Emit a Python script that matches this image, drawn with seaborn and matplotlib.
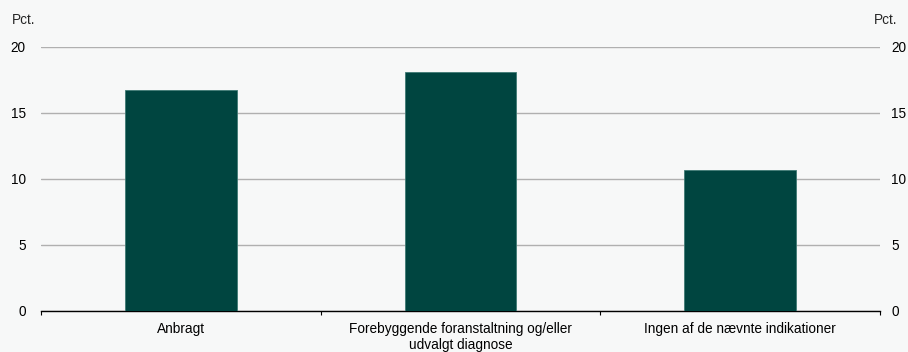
import matplotlib
matplotlib.use("Agg")
import matplotlib.pyplot as plt
from matplotlib.ticker import FixedLocator
import seaborn as sns
import pandas as pd

categories = ["Anbragt", "Forebyggende foranstaltning og/eller\nudvalgt diagnose", "Ingen af de nævnte indikationer"]
values = [16.75, 18.1, 10.7]
yticks = [0, 5, 10, 15, 20]

sns.set_theme(style="white")
plt.rcParams['font.family'] = ['Liberation Sans', 'DejaVu Sans']

bg = "#f7f8f8"
fs = 9.8
fig = plt.figure(figsize=(9.08, 3.52), dpi=100, facecolor=bg)
ax = fig.add_axes([41/908, 41/352, (880-41)/908, (311-47)/352])
ax.set_facecolor(bg)

df = pd.DataFrame({"cat": categories, "val": values})
sns.barplot(data=df, x="cat", y="val", color="#004540", saturation=1, width=0.4,
            edgecolor="#3f7a74", linewidth=0.6, ax=ax, zorder=3)

ax.set_ylim(0, 20)
ax.set_xlim(-0.5, 2.5)
ax.set_yticks(yticks)
ax.yaxis.grid(True, color="#b0b0b0", linewidth=1)
ax.set_axisbelow(True)
for s in ["top", "left", "right"]:
    ax.spines[s].set_visible(False)
ax.spines["bottom"].set_color("black")
ax.spines["bottom"].set_linewidth(1)
ax.set_xlabel("")
ax.set_ylabel("")

ax.tick_params(axis="y", length=0, labelsize=fs, colors="black", pad=11,
               labelleft=True, labelright=False)
ax.tick_params(axis="x", which="major", length=0, labelsize=fs, colors="black", pad=8)

# right-side axis labels
axr = ax.twinx()
axr.set_ylim(ax.get_ylim())
axr.set_yticks(yticks)
axr.tick_params(axis="y", length=0, labelsize=fs, colors="black", pad=8)
for s in ["top", "left", "right", "bottom"]:
    axr.spines[s].set_visible(False)
axr.grid(False)

# category boundary ticks
ax.xaxis.set_minor_locator(FixedLocator([-0.5, 0.5, 1.5, 2.5]))
ax.tick_params(axis="x", which="minor", length=3, width=0.8, color="black",
               direction="out", bottom=True)

fig.text(12/908, 1-20/352, "Pct.", fontsize=fs, ha="left", va="center")
fig.text(897/908, 1-20/352, "Pct.", fontsize=fs, ha="right", va="center")

fig.savefig("out.png", dpi=100, facecolor=bg)
